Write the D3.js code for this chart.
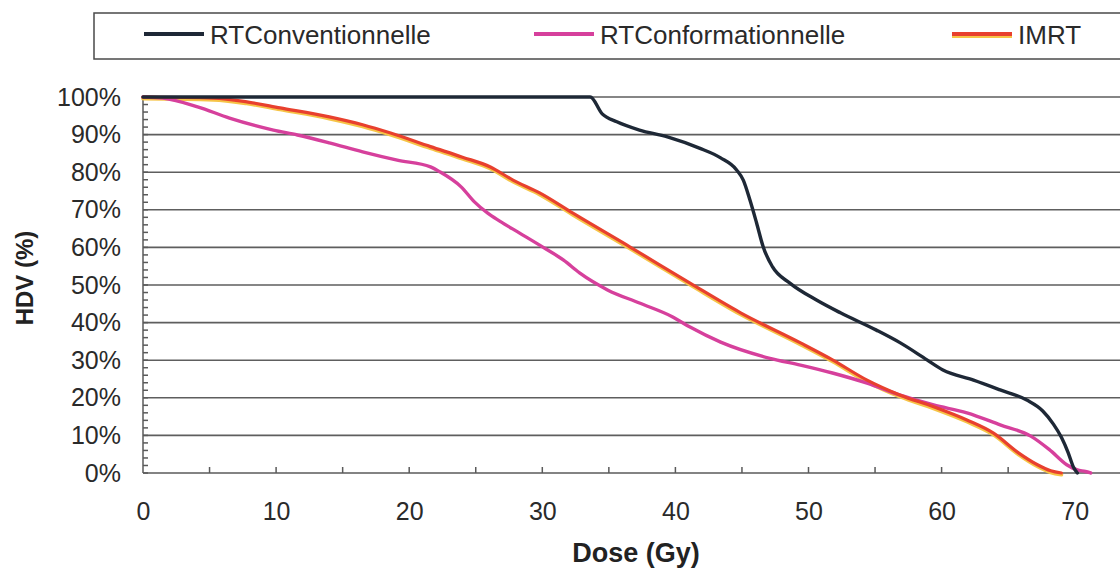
<!DOCTYPE html>
<html>
<head>
    <meta charset="utf-8">
    <title>HDV</title>
    <script src="https://cdnjs.cloudflare.com/ajax/libs/d3/7.8.5/d3.min.js"></script>
</head>
<style media="screen">
    body { margin: 0; background: #fff; }
    svg { display: block; font-family: "Liberation Sans", Arial, sans-serif; }
    .grid line { stroke: #5e5e5e; stroke-width: 1.6; }
    .axis path, .axis line { stroke: #5a5a5a; stroke-width: 1.5; fill: none; }
    .axis text { fill: #2a2a2a; font-size: 25px; }
    .curve { fill: none; stroke-linejoin: round; stroke-linecap: round; }
</style>
<body>
<script>
    // values
    var conventDose = [0, 33.6, 34.5, 35.6, 37.3, 39.4, 41.8, 43.4, 44.6, 45.1, 45.6, 46.1, 46.6, 47.3, 48.6, 50.6, 52.4, 55.1, 56.9, 58.9, 60.1, 62.4, 64.4, 66.4, 67.6, 68.4, 69.0, 69.5, 69.9, 70.2];
    var conventVol  = [100, 100, 95.5, 93.4, 91.2, 89.4, 86.4, 83.8, 80.6, 77.9, 72.6, 66.5, 60.1, 54.8, 50.5, 46.0, 42.6, 38.0, 34.6, 30.1, 27.4, 24.7, 22.1, 19.4, 16.5, 13.0, 9.5, 5.5, 1.6, 0];

    var conformDose = [0, 1.5, 4.1, 6.5, 9.8, 11.6, 14.0, 16.5, 19.1, 21.6, 22.3, 23.9, 24.9, 25.9, 26.8, 28.3, 29.8, 31.6, 32.8, 34.9, 37.3, 39.8, 41.1, 43.4, 47.1, 49.4, 51.8, 54.4, 56.9, 59.4, 61.9, 64.4, 66.7, 68.1, 69.4, 70.2, 70.8, 71.2];
    var conformVol  = [100, 99.7, 97.4, 94.4, 91.2, 89.9, 87.8, 85.4, 83.2, 81.4, 80.1, 76.1, 72.1, 69.1, 67.0, 63.8, 60.6, 56.6, 53.2, 48.7, 45.2, 41.5, 38.8, 34.8, 30.5, 28.7, 26.6, 23.9, 20.7, 18.1, 16.0, 12.8, 9.8, 6.2, 2.2, 0.8, 0.4, 0];

    var imrtDose = [0, 5.3, 7.8, 10.3, 14.0, 16.5, 18.6, 21.6, 24.0, 26.1, 27.8, 29.8, 32.3, 36.6, 41.1, 44.9, 49.4, 51.8, 54.4, 56.9, 59.4, 61.9, 63.9, 65.8, 67.2, 68.2, 69.0];
    var imrtVol  = [100, 99.7, 98.7, 97.1, 94.7, 92.6, 90.4, 86.8, 84.0, 81.4, 77.9, 74.5, 69.1, 60.1, 50.5, 42.6, 34.6, 30.1, 24.7, 20.7, 17.6, 14.1, 10.6, 5.3, 2.2, 0.6, 0];

    var seriesNames = ["RTConventionnelle", "RTConformationnelle", "IMRT"];
    var xTicks = [0, 10, 20, 30, 40, 50, 60, 70];
    var yTicks = [0, 10, 20, 30, 40, 50, 60, 70, 80, 90, 100];

    var W = 1120, H = 570;
    var plotLeft = 143, plotTop = 97, plotBottom = 473;

    var svg = d3.select("body").append("svg")
        .attr("width", W)
        .attr("height", H);

    var x = d3.scaleLinear().domain([0, 80]).range([plotLeft, plotLeft + 80 * 13.31]);
    var y = d3.scaleLinear().domain([0, 100]).range([plotBottom, plotTop]);

    // horizontal grid
    svg.append("g").attr("class", "grid")
        .selectAll("line").data(yTicks.slice(1)).enter().append("line")
        .attr("x1", plotLeft).attr("x2", W)
        .attr("y1", function(d) { return y(d); })
        .attr("y2", function(d) { return y(d); });

    // minor ticks (inside)
    svg.append("g").attr("class", "axis")
        .selectAll("line").data(d3.range(0, 101, 2)).enter().append("line")
        .attr("x1", plotLeft).attr("x2", plotLeft + 5)
        .attr("y1", function(d) { return y(d); })
        .attr("y2", function(d) { return y(d); });

    svg.append("g").attr("class", "axis")
        .selectAll("line").data(d3.range(5, 70, 5)).enter().append("line")
        .attr("x1", function(d) { return x(d); })
        .attr("x2", function(d) { return x(d); })
        .attr("y1", plotBottom).attr("y2", plotBottom - 6);

    // axes
    var yAxis = svg.append("g").attr("class", "axis")
        .attr("transform", "translate(" + plotLeft + ",0)")
        .call(d3.axisLeft(y).tickValues(yTicks).tickSize(0).tickPadding(22)
            .tickFormat(function(d) { return d + "%"; }));
    yAxis.select(".domain").attr("d", "M0," + plotTop + "V" + plotBottom);

    var xAxis = svg.append("g").attr("class", "axis")
        .attr("transform", "translate(0," + plotBottom + ")")
        .call(d3.axisBottom(x).tickValues(xTicks).tickSize(0).tickPadding(29));
    xAxis.select(".domain").attr("d", "M" + plotLeft + ",0H" + W);

    // axis titles
    svg.append("text")
        .attr("x", 636).attr("y", 562)
        .attr("text-anchor", "middle")
        .style("font-size", "27px").style("font-weight", "bold").style("fill", "#222")
        .text("Dose (Gy)");

    svg.append("text")
        .attr("transform", "translate(33,278) rotate(-90)")
        .attr("text-anchor", "middle")
        .style("font-size", "24px").style("font-weight", "bold").style("fill", "#222")
        .text("HDV (%)");

    // curves
    var line = d3.line()
        .x(function(d) { return x(d[0]); })
        .y(function(d) { return y(d[1]); })
        .curve(d3.curveMonotoneX);

    function pts(xs, ys) { return xs.map(function(v, i) { return [v, ys[i]]; }); }

    svg.append("path").attr("class", "curve")
        .attr("d", line(pts(imrtDose, imrtVol)))
        .attr("transform", "translate(0,1.6)")
        .attr("stroke", "#f6c447").attr("stroke-width", 3.8);
    svg.append("path").attr("class", "curve")
        .attr("d", line(pts(conformDose, conformVol)))
        .attr("stroke", "#d6409c").attr("stroke-width", 3.4);
    svg.append("path").attr("class", "curve")
        .attr("d", line(pts(imrtDose, imrtVol)))
        .attr("stroke", "#e8402e").attr("stroke-width", 3.2);
    svg.append("path").attr("class", "curve")
        .attr("d", line(pts(conventDose, conventVol)))
        .attr("stroke", "#1e2836").attr("stroke-width", 3.4);

    // legend
    var lg = svg.append("g");
    lg.append("rect")
        .attr("x", 94).attr("y", 13).attr("width", 1100).attr("height", 46)
        .attr("fill", "#fff").attr("stroke", "#4a4a4a").attr("stroke-width", 1.5);

    var legendX = [144, 534, 952];
    var legendColors = ["#1e2836", "#d6409c", "#e8402e"];
    seriesNames.forEach(function(name, i) {
        if (i === 2) {
            lg.append("line")
                .attr("x1", legendX[i]).attr("x2", legendX[i] + 60)
                .attr("y1", 36.5).attr("y2", 36.5)
                .attr("stroke", "#f6c447").attr("stroke-width", 3);
        }
        lg.append("line")
            .attr("x1", legendX[i]).attr("x2", legendX[i] + 60)
            .attr("y1", 34).attr("y2", 34)
            .attr("stroke", legendColors[i]).attr("stroke-width", 4);
        lg.append("text")
            .attr("x", legendX[i] + 66).attr("y", 44)
            .style("font-size", "26px").style("fill", "#2a2a2a")
            .text(name);
    });
</script>
</body>
</html>
